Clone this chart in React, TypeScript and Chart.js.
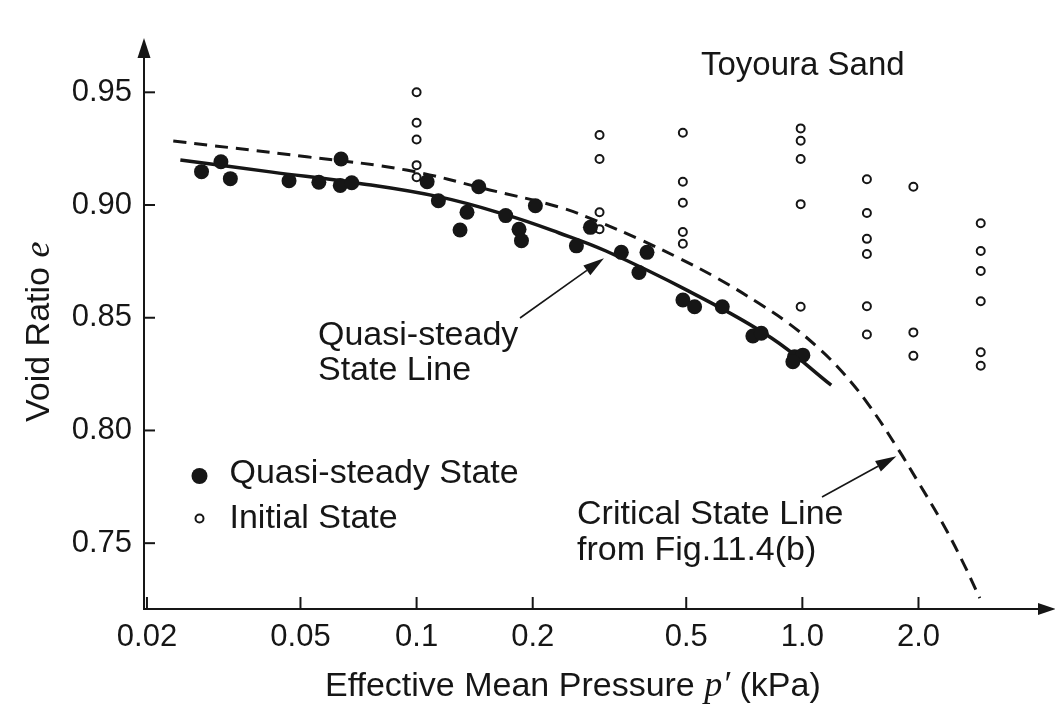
import React, { useEffect, useRef } from "react";
import { Chart, registerables } from "chart.js";

Chart.register(...registerables);

// ---- tick labels ----
const xTickValues = [0.02, 0.05, 0.1, 0.2, 0.5, 1, 2];
const xTickLabels = ["0.02", "0.05", "0.1", "0.2", "0.5", "1.0", "2.0"];
const yTickValues = [0.75, 0.8, 0.85, 0.9, 0.95];
const yTickLabels = ["0.75", "0.80", "0.85", "0.90", "0.95"];

// ---- Quasi-steady State (filled dots) ----
const quasiSteadyP = [
  0.0277, 0.0311, 0.0329, 0.0467, 0.0558, 0.0637, 0.0634, 0.0679, 0.1065, 0.1139,
  0.1351, 0.1296, 0.1449, 0.1702, 0.1843, 0.187, 0.2032, 0.2822, 0.2596, 0.3394,
  0.3956, 0.3771, 0.4902, 0.5256, 0.62, 0.7442, 0.7826, 0.9546, 1.0028, 0.945,
];
const quasiSteadyE = [
  0.9148, 0.9192, 0.9117, 0.9108, 0.9101, 0.9204, 0.9087, 0.9099, 0.9103, 0.9019,
  0.8968, 0.8889, 0.9081, 0.8953, 0.8892, 0.8842, 0.8997, 0.8901, 0.8819, 0.879,
  0.879, 0.8701, 0.8579, 0.8549, 0.8549, 0.8419, 0.8431, 0.8327, 0.8334, 0.8305,
];

// ---- Initial State (open circles) ----
const initialP = [
  0.1, 0.1, 0.1, 0.1, 0.1,
  0.298, 0.298, 0.298, 0.298,
  0.49, 0.49, 0.49, 0.49, 0.49,
  0.99, 0.99, 0.99, 0.99, 0.99,
  1.47, 1.47, 1.47, 1.47, 1.47, 1.47,
  1.94, 1.94, 1.94,
  2.9, 2.9, 2.9, 2.9, 2.9, 2.9,
];
const initialE = [
  0.95, 0.9365, 0.9291, 0.9177, 0.9123,
  0.9311, 0.9204, 0.8968, 0.8893,
  0.9321, 0.9103, 0.901, 0.888, 0.8828,
  0.934, 0.9285, 0.9204, 0.9004, 0.8549,
  0.9114, 0.8965, 0.885, 0.8783, 0.8551, 0.8426,
  0.9081, 0.8435, 0.8331,
  0.8919, 0.8796, 0.8707, 0.8573, 0.8347, 0.8287,
];

// ---- Quasi-steady State Line (solid) ----
const qsLineP = [0.02441, 0.0422, 0.06998, 0.1147, 0.1709, 0.2342, 0.3097, 0.5075, 0.8316, 1.188];
const qsLineE = [0.92, 0.9146, 0.9098, 0.9036, 0.8956, 0.8876, 0.8796, 0.8618, 0.841, 0.8201];

// ---- Critical State Line (dashed) ----
const csLineP = [
  0.0234, 0.0519, 0.0941, 0.1547, 0.2342, 0.2971, 0.377, 0.4782, 0.6067, 0.7695,
  0.9201, 1.1, 1.276, 1.481, 1.77, 2.018, 2.3, 2.591, 2.884,
];
const csLineE = [
  0.9284, 0.9214, 0.9155, 0.9067, 0.8991, 0.8925, 0.8849, 0.8765, 0.8672, 0.8565,
  0.8476, 0.8366, 0.8255, 0.8117, 0.7918, 0.7758, 0.7594, 0.7425, 0.7256,
];

// ---- arrow targets (data coords) ----
const qsArrowTip = { x: 0.306, y: 0.8764 };
const csArrowTip = { x: 1.753, y: 0.7886 };

const SANS = '"Liberation Sans", Arial, Helvetica, sans-serif';
const SERIF = '"Liberation Serif", "DejaVu Serif", serif';
const INK = "#161616";

function pts(xs: number[], ys: number[]) {
  return xs.map((x, i) => ({ x, y: ys[i] }));
}

function arrow(ctx: CanvasRenderingContext2D, x1: number, y1: number, x2: number, y2: number, len: number, half: number) {
  const a = Math.atan2(y2 - y1, x2 - x1);
  const bx = x2 - len * Math.cos(a);
  const by = y2 - len * Math.sin(a);
  ctx.beginPath();
  ctx.moveTo(x1, y1);
  ctx.lineTo(bx, by);
  ctx.stroke();
  ctx.beginPath();
  ctx.moveTo(x2, y2);
  ctx.lineTo(bx + half * Math.sin(a), by - half * Math.cos(a));
  ctx.lineTo(bx - half * Math.sin(a), by + half * Math.cos(a));
  ctx.closePath();
  ctx.fill();
}

const decorPlugin = {
  id: "decor",
  afterDraw(chart: any) {
    const ctx: CanvasRenderingContext2D = chart.ctx;
    const xs = chart.scales.x;
    const ys = chart.scales.y;
    const { left, right, top, bottom } = chart.chartArea;
    ctx.save();
    ctx.strokeStyle = INK;
    ctx.fillStyle = INK;
    ctx.lineWidth = 2;

    // inward tick marks
    yTickValues.forEach((v) => {
      const py = ys.getPixelForValue(v);
      ctx.beginPath();
      ctx.moveTo(left, py);
      ctx.lineTo(left + 11, py);
      ctx.stroke();
    });
    xTickValues.forEach((v) => {
      const px = xs.getPixelForValue(v);
      ctx.beginPath();
      ctx.moveTo(px, bottom);
      ctx.lineTo(px, bottom - 12);
      ctx.stroke();
    });

    // axis arrows
    ctx.beginPath();
    ctx.moveTo(left, top);
    ctx.lineTo(left, 56);
    ctx.stroke();
    ctx.beginPath();
    ctx.moveTo(left, 38);
    ctx.lineTo(left - 6.5, 58);
    ctx.lineTo(left + 6.5, 58);
    ctx.closePath();
    ctx.fill();
    ctx.beginPath();
    ctx.moveTo(1056, bottom);
    ctx.lineTo(1038, bottom - 6);
    ctx.lineTo(1038, bottom + 6);
    ctx.closePath();
    ctx.fill();
    ctx.beginPath();
    ctx.moveTo(right, bottom);
    ctx.lineTo(1040, bottom);
    ctx.stroke();

    // annotation arrows
    ctx.lineWidth = 1.6;
    arrow(ctx, 520, 318, xs.getPixelForValue(qsArrowTip.x), ys.getPixelForValue(qsArrowTip.y), 21, 6);
    arrow(ctx, 822, 497, xs.getPixelForValue(csArrowTip.x), ys.getPixelForValue(csArrowTip.y), 21, 6);

    // texts
    ctx.textBaseline = "alphabetic";
    ctx.textAlign = "left";
    ctx.font = `33px ${SANS}`;
    ctx.fillText("Toyoura Sand", 701, 75);

    ctx.font = `34px ${SANS}`;
    ctx.fillText("Quasi-steady", 318, 345);
    ctx.fillText("State Line", 318, 380);

    ctx.fillText("Critical State Line", 577, 524);
    ctx.fillText("from Fig.11.4(b)", 577, 560);

    // legend
    ctx.beginPath();
    ctx.arc(199.5, 476, 8, 0, Math.PI * 2);
    ctx.fill();
    ctx.beginPath();
    ctx.lineWidth = 2;
    ctx.fillStyle = "#fff";
    ctx.arc(199.5, 518.5, 4, 0, Math.PI * 2);
    ctx.fill();
    ctx.stroke();
    ctx.fillStyle = INK;
    ctx.fillText("Quasi-steady State", 229.5, 483);
    ctx.fillText("Initial State", 229.5, 528);

    // x axis title
    let x = 325;
    const xb = 696;
    ctx.font = `34px ${SANS}`;
    const t1 = "Effective Mean Pressure ";
    ctx.fillText(t1, x, xb);
    x += ctx.measureText(t1).width;
    ctx.font = `italic 36px ${SERIF}`;
    ctx.fillText("p\u2032", x, xb);
    x += ctx.measureText("p\u2032").width;
    ctx.font = `34px ${SANS}`;
    ctx.fillText(" (kPa)", x, xb);

    // y axis title
    ctx.save();
    ctx.translate(49, 422);
    ctx.rotate(-Math.PI / 2);
    ctx.font = `34px ${SANS}`;
    const t2 = "Void Ratio ";
    ctx.fillText(t2, 0, 0);
    const w2 = ctx.measureText(t2).width;
    ctx.font = `italic 36px ${SERIF}`;
    ctx.fillText("e", w2, 0);
    ctx.restore();

    ctx.restore();
  },
};

export default function App() {
  const ref = useRef<HTMLCanvasElement | null>(null);

  useEffect(() => {
    if (!ref.current) return;
    const chart = new Chart(ref.current, {
      type: "scatter",
      data: {
        datasets: [
          {
            label: "Quasi-steady State",
            data: pts(quasiSteadyP, quasiSteadyE),
            pointRadius: 7.5,
            pointBackgroundColor: INK,
            pointBorderColor: INK,
            pointBorderWidth: 0,
            showLine: false,
            order: 0,
          },
          {
            label: "Initial State",
            data: pts(initialP, initialE),
            pointRadius: 4,
            pointBackgroundColor: "#ffffff",
            pointBorderColor: INK,
            pointBorderWidth: 2,
            showLine: false,
            order: 1,
          },
          {
            type: "line",
            label: "Quasi-steady State Line",
            data: pts(qsLineP, qsLineE),
            borderColor: INK,
            borderWidth: 3.5,
            pointRadius: 0,
            fill: false,
            showLine: true,
            tension: 0.4,
            order: 2,
          },
          {
            type: "line",
            label: "Critical State Line",
            data: pts(csLineP, csLineE),
            borderColor: INK,
            borderWidth: 3,
            borderDash: [13, 8],
            pointRadius: 0,
            fill: false,
            showLine: true,
            tension: 0.4,
            order: 3,
          },
        ] as any,
      },
      options: {
        responsive: false,
        animation: false,
        devicePixelRatio: 1,
        layout: { padding: { left: 0, top: 47, right: 5, bottom: 0 } },
        plugins: { legend: { display: false }, tooltip: { enabled: false } },
        scales: {
          x: {
            type: "logarithmic",
            position: "bottom",
            bounds: "data",
            min: 0.01965,
            max: 4.32,
            afterBuildTicks: (s: any) => {
              s.ticks = xTickValues.map((v) => ({ value: v }));
            },
            afterFit: (s: any) => {
              s.height = 103;
            },
            ticks: {
              autoSkip: false,
              maxRotation: 0,
              minRotation: 0,
              padding: 10,
              color: INK,
              font: { family: SANS, size: 31 },
              callback: (v: any) => {
                const i = xTickValues.indexOf(Number(v));
                return i >= 0 ? xTickLabels[i] : "";
              },
            },
            grid: { display: true, drawOnChartArea: false, drawTicks: false },
            border: { display: true, color: INK, width: 2 },
          },
          y: {
            type: "linear",
            position: "left",
            bounds: "data",
            min: 0.7208,
            max: 0.9701,
            afterBuildTicks: (s: any) => {
              s.ticks = yTickValues.map((v) => ({ value: v }));
            },
            afterFit: (s: any) => {
              s.width = 144;
            },
            ticks: {
              autoSkip: false,
              padding: 12,
              color: INK,
              font: { family: SANS, size: 31 },
              callback: (v: any) => {
                const i = yTickValues.findIndex((t) => Math.abs(t - Number(v)) < 1e-9);
                return i >= 0 ? yTickLabels[i] : "";
              },
            },
            grid: { display: true, drawOnChartArea: false, drawTicks: false },
            border: { display: true, color: INK, width: 2 },
          },
        },
      } as any,
      plugins: [decorPlugin],
    });
    return () => chart.destroy();
  }, []);

  return (
    <div style={{ position: "fixed", left: 0, top: 0, width: 1055, height: 712, background: "#fff" }}>
      <canvas ref={ref} width={1055} height={712} style={{ display: "block" }} />
    </div>
  );
}
